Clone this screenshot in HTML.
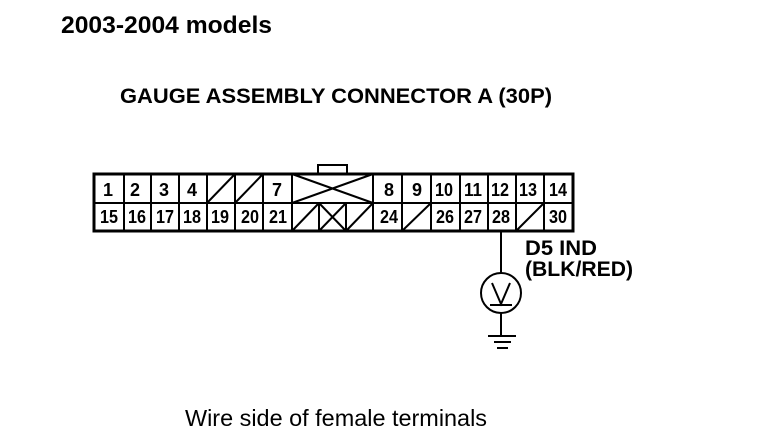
<!DOCTYPE html>
<html><head><meta charset="utf-8"><style>html,body{margin:0;padding:0;background:#fff}svg{display:block}text{font-family:"Liberation Sans",sans-serif;fill:#000;font-weight:bold}</style></head><body>
<svg width="768" height="444" viewBox="0 0 768 444" xmlns="http://www.w3.org/2000/svg">
<text x="61" y="33" font-size="24" textLength="211" lengthAdjust="spacingAndGlyphs">2003-2004 models</text>
<text x="120" y="103" font-size="21" textLength="432" lengthAdjust="spacingAndGlyphs">GAUGE ASSEMBLY CONNECTOR A (30P)</text>
<text x="185" y="426" font-size="23" style="font-weight:normal" textLength="302" lengthAdjust="spacingAndGlyphs">Wire side of female terminals</text>
<text x="525" y="255" font-size="21" textLength="72" lengthAdjust="spacingAndGlyphs">D5 IND</text>
<text x="525" y="276" font-size="21" textLength="108" lengthAdjust="spacingAndGlyphs">(BLK/RED)</text>
<g fill="none" stroke="#000">
<rect x="94" y="174" width="479" height="57" stroke-width="3"/>
<path stroke-width="2" d="M94 203H292M373 203H573M124 174V231M151 174V231M179 174V231M207 174V231M235 174V231M263 174V231M292 174V231M373 174V231M402 174V231M431 174V231M460 174V231M488 174V231M516 174V231M544 174V231M319 203V231M346 203V231M292 203H373"/>
<path stroke-width="2" d="M318 174V165H347V174"/>
<path stroke-width="2" d="M207 203L235 174M235 203L263 174M292 174L373 203M292 203L373 174M292 231L319 203M319 203L346 231M319 231L346 203M346 231L373 203M402 231L431 203M516 231L544 203"/>
<path stroke-width="2" d="M501 231V274M501 313V337"/>
<circle cx="501" cy="293" r="20" stroke-width="2"/>
<path stroke-width="2" d="M492 283L501 304L510 283M490 305H512"/>
<path stroke-width="2" d="M488 336H516M494 342H511M497 348H508"/>
</g>
<g font-size="18" text-anchor="middle" lengthAdjust="spacingAndGlyphs">
<text x="108" y="196">1</text><text x="135" y="196">2</text><text x="164" y="196">3</text><text x="192" y="196">4</text><text x="277" y="196">7</text>
<text x="389" y="196">8</text><text x="417" y="196">9</text><text x="444" y="196" textLength="18" lengthAdjust="spacingAndGlyphs">10</text><text x="473" y="196" textLength="18" lengthAdjust="spacingAndGlyphs">11</text><text x="500" y="196" textLength="18" lengthAdjust="spacingAndGlyphs">12</text><text x="528" y="196" textLength="18" lengthAdjust="spacingAndGlyphs">13</text><text x="558" y="196" textLength="18" lengthAdjust="spacingAndGlyphs">14</text>
<text x="109" y="223" textLength="18" lengthAdjust="spacingAndGlyphs">15</text><text x="137" y="223" textLength="18" lengthAdjust="spacingAndGlyphs">16</text><text x="165" y="223" textLength="18" lengthAdjust="spacingAndGlyphs">17</text><text x="192" y="223" textLength="18" lengthAdjust="spacingAndGlyphs">18</text><text x="220" y="223" textLength="18" lengthAdjust="spacingAndGlyphs">19</text><text x="250" y="223" textLength="18" lengthAdjust="spacingAndGlyphs">20</text><text x="278" y="223" textLength="18" lengthAdjust="spacingAndGlyphs">21</text>
<text x="389" y="223" textLength="18" lengthAdjust="spacingAndGlyphs">24</text><text x="445" y="223" textLength="18" lengthAdjust="spacingAndGlyphs">26</text><text x="473" y="223" textLength="18" lengthAdjust="spacingAndGlyphs">27</text><text x="501" y="223" textLength="18" lengthAdjust="spacingAndGlyphs">28</text><text x="558" y="223" textLength="18" lengthAdjust="spacingAndGlyphs">30</text>
</g>
</svg>
</body></html>
